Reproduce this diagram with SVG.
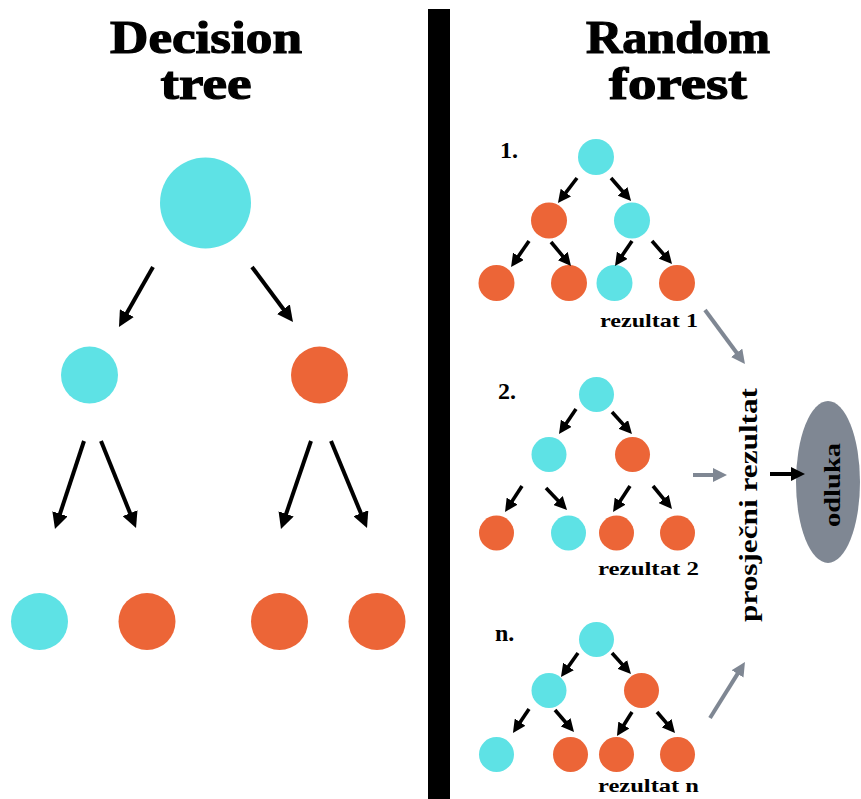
<svg xmlns="http://www.w3.org/2000/svg" width="861" height="799" viewBox="0 0 861 799">
<style>
.c{fill:#5ee2e5}
.o{fill:#ec6537}
.t{font-family:"Liberation Serif","DejaVu Serif",serif;font-weight:bold;fill:#000}
.h{stroke:#000;stroke-width:1.2}
.a{stroke:#000;stroke-width:4;fill:none}
.s{stroke:#000;stroke-width:3.6;fill:none}
.g{stroke:#7f8793;stroke-width:4;fill:none}
</style>
<defs>
<marker id="mb" markerUnits="userSpaceOnUse" viewBox="0 0 16 16" markerWidth="16" markerHeight="16" refX="6" refY="8" orient="auto"><path d="M0,0 L16,8 L0,16 z" fill="#000"/></marker>
<marker id="ms" markerUnits="userSpaceOnUse" viewBox="0 0 13 13" markerWidth="13" markerHeight="13" refX="5" refY="6.5" orient="auto"><path d="M0,0 L13,6.5 L0,13 z" fill="#000"/></marker>
<marker id="mg" markerUnits="userSpaceOnUse" viewBox="0 0 14 14" markerWidth="14" markerHeight="14" refX="5" refY="7" orient="auto"><path d="M0,0 L14,7 L0,14 z" fill="#7f8793"/></marker>
<marker id="mk" markerUnits="userSpaceOnUse" viewBox="0 0 14 14" markerWidth="14" markerHeight="14" refX="5" refY="7" orient="auto"><path d="M0,0 L14,7 L0,14 z" fill="#000"/></marker>
</defs>
<rect width="861" height="799" fill="#fff"/>
<rect id="divider" x="428" y="9" width="22" height="790" fill="#000"/>
<g id="titles">
<text class="t h" x="206" y="53" font-size="46" text-anchor="middle" textLength="192" lengthAdjust="spacingAndGlyphs">Decision</text>
<text class="t h" x="206" y="99" font-size="46" text-anchor="middle" textLength="91" lengthAdjust="spacingAndGlyphs">tree</text>
<text class="t h" x="678" y="53" font-size="46" text-anchor="middle" textLength="184" lengthAdjust="spacingAndGlyphs">Random</text>
<text class="t h" x="678" y="99" font-size="46" text-anchor="middle" textLength="138" lengthAdjust="spacingAndGlyphs">forest</text>
</g>
<g id="dt-nodes">
<circle id="dt-root" class="c" cx="205.5" cy="203" r="45.5"/>
<circle id="dt-l" class="c" cx="89.5" cy="375" r="28.5"/>
<circle id="dt-r" class="o" cx="319.5" cy="375" r="28.5"/>
<circle id="dt-ll" class="c" cx="39.5" cy="621.5" r="28.5"/>
<circle id="dt-lr" class="o" cx="147" cy="621.5" r="28.5"/>
<circle id="dt-rl" class="o" cx="279.5" cy="621.5" r="28.5"/>
<circle id="dt-rr" class="o" cx="377" cy="621.5" r="28.5"/>
</g>
<g id="rf1">
<text class="t" x="500" y="158" font-size="24">1.</text>
<circle class="c" cx="596" cy="157" r="18"/>
<circle class="o" cx="549" cy="220.5" r="18"/>
<circle class="c" cx="632" cy="220.5" r="18"/>
<circle class="o" cx="496.5" cy="283" r="18"/>
<circle class="o" cx="569" cy="283" r="18"/>
<circle class="c" cx="614.5" cy="283" r="18"/>
<circle class="o" cx="677" cy="283" r="18"/>
<text class="t" x="600" y="327" font-size="19" textLength="98" lengthAdjust="spacingAndGlyphs">rezultat 1</text>
</g>
<g id="rf2">
<text class="t" x="498" y="399" font-size="24">2.</text>
<circle class="c" cx="596.5" cy="394.5" r="17.5"/>
<circle class="c" cx="549" cy="454.5" r="17.5"/>
<circle class="o" cx="632.5" cy="454.5" r="17.5"/>
<circle class="o" cx="496.5" cy="533" r="17.5"/>
<circle class="c" cx="568.5" cy="533" r="17.5"/>
<circle class="o" cx="616.5" cy="533" r="17.5"/>
<circle class="o" cx="677.5" cy="533" r="17.5"/>
<text class="t" x="598" y="575" font-size="19" textLength="101" lengthAdjust="spacingAndGlyphs">rezultat 2</text>
</g>
<g id="rfn">
<text class="t" x="495" y="641" font-size="24">n.</text>
<circle class="c" cx="596.5" cy="639.5" r="17.5"/>
<circle class="c" cx="549" cy="690.5" r="17.5"/>
<circle class="o" cx="641.5" cy="690.5" r="17.5"/>
<circle class="c" cx="496.5" cy="754.5" r="17.5"/>
<circle class="o" cx="570.5" cy="754.5" r="17.5"/>
<circle class="o" cx="616.5" cy="754.5" r="17.5"/>
<circle class="o" cx="677.5" cy="754.5" r="17.5"/>
<text class="t" x="598" y="792" font-size="19" textLength="101" lengthAdjust="spacingAndGlyphs">rezultat n</text>
</g>
<g id="avg">
<text class="t" transform="translate(757,505) rotate(-90)" x="0" y="0" font-size="25" text-anchor="middle" textLength="234" lengthAdjust="spacingAndGlyphs">prosječni rezultat</text>
</g>
<g id="odluka">
<ellipse cx="828" cy="482" rx="32" ry="81" fill="#7f8793"/>
<text class="t" transform="translate(840,485) rotate(-90)" x="0" y="0" font-size="23" text-anchor="middle" textLength="84" lengthAdjust="spacingAndGlyphs">odluka</text>
</g>
<g id="connectors">
<line class="a" x1="153" y1="267" x2="123.9" y2="318.3" marker-end="url(#mb)"/>
<line class="a" x1="252" y1="267" x2="287" y2="314" marker-end="url(#mb)"/>
<line class="a" x1="84" y1="441" x2="58.1" y2="519.5" marker-end="url(#mb)"/>
<line class="a" x1="101" y1="441" x2="132.3" y2="518.7" marker-end="url(#mb)"/>
<line class="a" x1="311" y1="441" x2="284.2" y2="519.5" marker-end="url(#mb)"/>
<line class="a" x1="331" y1="441" x2="363.2" y2="518.8" marker-end="url(#mb)"/>
<line class="s" x1="577" y1="178" x2="562.8" y2="196.6" marker-end="url(#ms)"/>
<line class="s" x1="611" y1="178" x2="625.8" y2="195" marker-end="url(#ms)"/>
<line class="s" x1="529" y1="241" x2="515.6" y2="260.4" marker-end="url(#ms)"/>
<line class="s" x1="551" y1="242" x2="565.9" y2="259.9" marker-end="url(#ms)"/>
<line class="s" x1="632" y1="241" x2="619.5" y2="259.4" marker-end="url(#ms)"/>
<line class="s" x1="652" y1="241" x2="666.8" y2="258" marker-end="url(#ms)"/>
<line class="s" x1="576" y1="409" x2="563.5" y2="427.4" marker-end="url(#ms)"/>
<line class="s" x1="612" y1="412" x2="626.6" y2="428.1" marker-end="url(#ms)"/>
<line class="s" x1="522" y1="486" x2="509.4" y2="505.3" marker-end="url(#ms)"/>
<line class="s" x1="546" y1="488" x2="561.5" y2="504.2" marker-end="url(#ms)"/>
<line class="s" x1="630" y1="486" x2="617.4" y2="505.3" marker-end="url(#ms)"/>
<line class="s" x1="653" y1="486" x2="666.9" y2="502.8" marker-end="url(#ms)"/>
<line class="s" x1="578" y1="653" x2="565.6" y2="670.5" marker-end="url(#ms)"/>
<line class="s" x1="612" y1="653" x2="625.6" y2="668.1" marker-end="url(#ms)"/>
<line class="s" x1="529" y1="709" x2="517.4" y2="726.3" marker-end="url(#ms)"/>
<line class="s" x1="555" y1="710" x2="568.8" y2="726" marker-end="url(#ms)"/>
<line class="s" x1="632" y1="712" x2="621.2" y2="729.2" marker-end="url(#ms)"/>
<line class="s" x1="657" y1="712" x2="669.8" y2="726.9" marker-end="url(#ms)"/>
<line class="g" x1="705" y1="310" x2="739.6" y2="356.8" marker-end="url(#mg)"/>
<line class="g" x1="693" y1="475" x2="718" y2="475" marker-end="url(#mg)"/>
<line class="g" x1="710" y1="718" x2="740.2" y2="669.6" marker-end="url(#mg)"/>
<line class="a" x1="770" y1="474" x2="796" y2="474" marker-end="url(#mk)"/>
</g>
</svg>
